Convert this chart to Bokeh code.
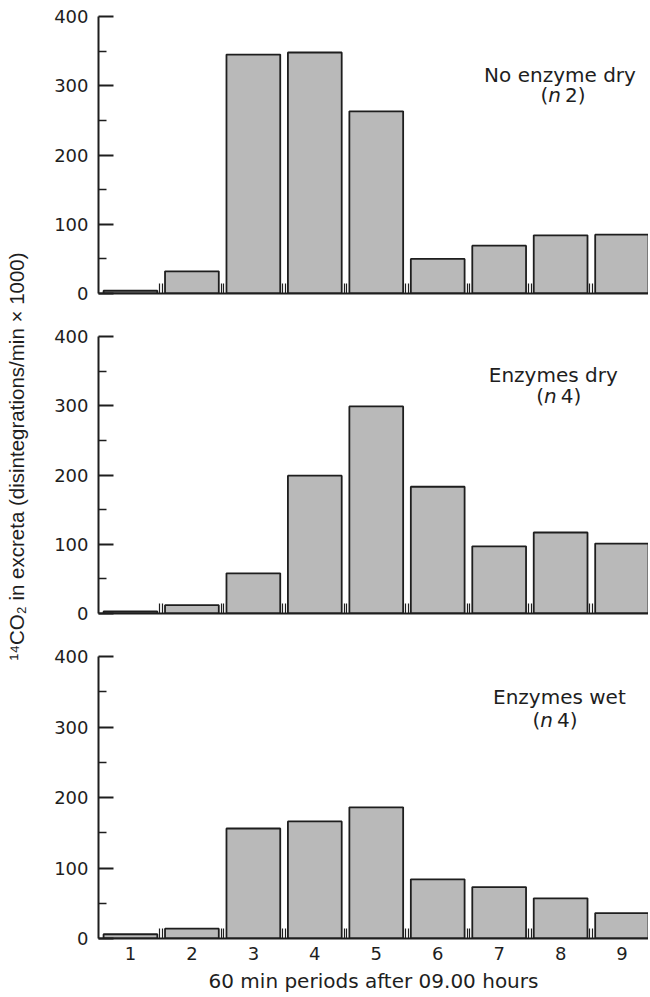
import math
from bokeh.plotting import figure
from bokeh.models import Label, FixedTicker, Range1d, LinearAxis
from bokeh.layouts import row, column
from bokeh.embed import file_html
from bokeh.resources import INLINE

# ---- data ----
periods = [1, 2, 3, 4, 5, 6, 7, 8, 9]
period_labels = ["1", "2", "3", "4", "5", "6", "7", "8", "9"]
no_enzyme_dry = [4, 32, 345, 348, 263, 50, 69, 84, 85]
enzymes_dry = [3, 12, 58, 199, 299, 183, 97, 117, 101]
enzymes_wet = [6, 14, 156, 166, 186, 84, 73, 57, 36]
y_ticks = [0, 100, 200, 300, 400]
y_minor = [50, 150, 250, 350]
boundaries = [1.5, 2.5, 3.5, 4.5, 5.5, 6.5, 7.5, 8.5]

FONT = "DejaVu Sans"
INK = "#1e1e1e"
FILL = "#b9b9b9"
TOTAL_H = 996


def panel(values, line1, n_val, lx1, ly1, lx2, ly2, frame_h, top_b, bot_b, show_x):
    p = figure(frame_width=550, frame_height=frame_h,
               x_range=Range1d(0.48, 9.43), y_range=Range1d(0, 400),
               x_axis_type=None, y_axis_type=None,
               min_border_left=60, min_border_right=0,
               min_border_top=top_b, min_border_bottom=bot_b,
               output_backend="svg", toolbar_location=None)
    p.outline_line_color = None
    p.background_fill_color = "white"
    p.border_fill_color = "white"

    p.vbar(x=periods, top=values, bottom=0, width=0.875,
           fill_color=FILL, line_color=INK, line_width=1.8)

    # x axis
    xt = [b + d for b in boundaries for d in (-0.022, 0.022)]
    xa = LinearAxis(ticker=FixedTicker(ticks=periods if show_x else [], minor_ticks=xt))
    xa.axis_line_color = INK
    xa.axis_line_width = 2
    xa.major_tick_line_color = None
    xa.major_tick_in = 0
    xa.major_tick_out = 0
    xa.minor_tick_in = 10
    xa.minor_tick_out = 0
    xa.minor_tick_line_color = INK
    xa.minor_tick_line_width = 1.2
    if show_x:
        xa.major_label_overrides = {k: v for k, v in zip(periods, period_labels)}
        xa.major_label_text_font = FONT
        xa.major_label_text_font_size = "18px"
        xa.major_label_text_color = INK
        xa.major_label_standoff = 8
        xa.axis_label = "60 min periods after 09.00 hours"
        xa.axis_label_text_font = FONT
        xa.axis_label_text_font_size = "20px"
        xa.axis_label_text_font_style = "normal"
        xa.axis_label_text_color = INK
        xa.axis_label_standoff = 6
    else:
        xa.major_label_standoff = 0
    p.add_layout(xa, "below")

    # y axis
    ya = LinearAxis(ticker=FixedTicker(ticks=y_ticks, minor_ticks=y_minor))
    ya.axis_line_color = INK
    ya.axis_line_width = 2
    ya.major_tick_in = 15
    ya.major_tick_out = 0
    ya.major_tick_line_color = INK
    ya.major_tick_line_width = 2
    ya.minor_tick_in = 8
    ya.minor_tick_out = 0
    ya.minor_tick_line_color = INK
    ya.minor_tick_line_width = 1.5
    ya.major_label_text_font = FONT
    ya.major_label_text_font_size = "18px"
    ya.major_label_text_color = INK
    ya.major_label_standoff = 10
    p.add_layout(ya, "left")

    # annotation
    p.add_layout(Label(x=lx1, y=ly1, text=line1, text_align="center",
                       text_baseline="alphabetic", text_font=FONT,
                       text_font_size="20px", text_color=INK))
    # "(n X)" with italic n
    p.add_layout(Label(x=lx2, y=ly2, x_offset=-23.7, text="(", text_align="left",
                       text_baseline="alphabetic", text_font=FONT,
                       text_font_size="20px", text_color=INK))
    p.add_layout(Label(x=lx2, y=ly2, x_offset=-16.0, text="n", text_align="left",
                       text_baseline="alphabetic", text_font=FONT,
                       text_font_style="italic",
                       text_font_size="20px", text_color=INK))
    p.add_layout(Label(x=lx2, y=ly2, x_offset=-3.2, text="\u2009" + n_val + ")",
                       text_align="left",
                       text_baseline="alphabetic", text_font=FONT,
                       text_font_size="20px", text_color=INK))
    return p


p1 = panel(no_enzyme_dry, "No enzyme dry", "2", 7.99, 316, 8.06, 287,
           277, 16, 21, False)
p2 = panel(enzymes_dry, "Enzymes dry", "4", 7.88, 345, 7.99, 314,
           277, 22, 21, False)
p3 = panel(enzymes_wet, "Enzymes wet", "4", 7.98, 343, 7.93, 310,
           282, 22, 55, True)

tf = figure(frame_width=38, frame_height=TOTAL_H, x_range=Range1d(0, 38),
            y_range=Range1d(0, TOTAL_H), x_axis_type=None, y_axis_type=None,
            min_border=0, output_backend="svg", toolbar_location=None)
tf.outline_line_color = None
tf.add_layout(Label(x=16, y=TOTAL_H - 456,
                    text="\u00b9\u2074CO\u2082 in excreta (disintegrations/min \u00d7 1000)",
                    angle=math.pi / 2, text_align="center", text_baseline="middle",
                    text_font="Liberation Sans", text_font_size="20.5px",
                    text_color=INK))

layout = row(tf, column(p1, p2, p3))

open("out.html", "w").write(file_html(layout, INLINE))
